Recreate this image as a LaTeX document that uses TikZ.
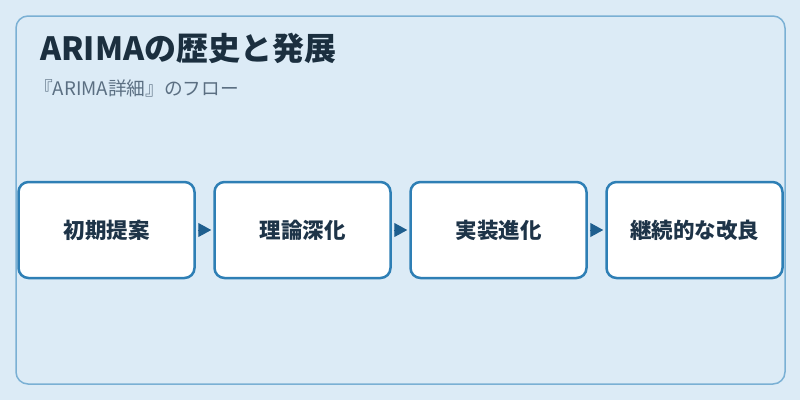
\documentclass[tikz,border=0pt]{standalone}
\usepackage{fontspec}
\setmainfont{Noto Sans CJK JP}
\usepackage{xcolor}
\usepackage{tikz}
\usetikzlibrary{arrows.meta}
\definecolor{bgblue}{HTML}{DCEBF6}
\definecolor{frameblue}{HTML}{7AB0D4}
\definecolor{boxblue}{HTML}{2E7FB5}
\definecolor{arrowblue}{HTML}{1F5F8F}
\definecolor{titleink}{HTML}{1B2F3F}
\definecolor{subink}{HTML}{5B6F82}
\definecolor{boxink}{HTML}{1E3448}
\tikzset{
  stagebox/.style={draw=boxblue, line width=2.5pt, fill=white, rounded corners=10pt,
    minimum width=176pt, minimum height=96pt, inner sep=0pt,
    font=\bfseries\fontsize{21.5pt}{26pt}\selectfont, text=boxink},
  flowarrow/.style={draw=arrowblue, line width=1pt, -{Triangle[length=13pt,width=14pt]}, shorten >=2pt, shorten <=2pt}
}
\begin{document}
\begin{tikzpicture}[x=1pt,y=-1pt]

			\fill[bgblue] (0,0) rectangle (800,400);
			\draw[frameblue, line width=1.5pt, rounded corners=12pt] (16,16) rectangle (785,384);

			\node[anchor=base west, inner sep=0pt, text=titleink, font=\bfseries\fontsize{32pt}{38pt}\selectfont] (title) at (40,60) {ARIMAの歴史と発展};
			\node[anchor=base west, inner sep=0pt, text=subink, font=\fontsize{18.7pt}{22pt}\selectfont] (subtitle) at (34,95) {『ARIMA詳細』のフロー};

			\def \w {196};
			\foreach \i/\t in {1/初期提案,2/理論深化,3/実装進化,4/継続的な改良} {
			    \node[stagebox] (b\i) at ({106.5+(\i-1)*\w},230) {\t};
			}

			\foreach \i/\j in {1/2,2/3,3/4} {
			    \draw[flowarrow] (b\i) -- (b\j);
			}
\end{tikzpicture}
\end{document}
